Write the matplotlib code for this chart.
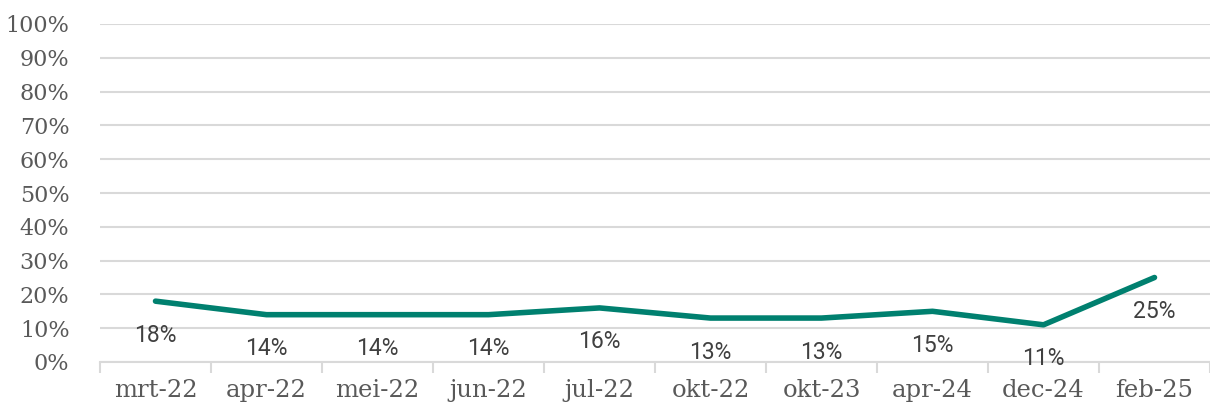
import matplotlib
matplotlib.use("Agg")
import matplotlib.pyplot as plt
from matplotlib.ticker import FixedLocator

categories = ["mrt-22", "apr-22", "mei-22", "jun-22", "jul-22",
              "okt-22", "okt-23", "apr-24", "dec-24", "feb-25"]
values = [0.18, 0.14, 0.14, 0.14, 0.16, 0.13, 0.13, 0.15, 0.11, 0.25]
y_ticks = [i / 10 for i in range(11)]
y_labels = [f"{i * 10}%" for i in range(11)]

W, H = 1210, 405
fig = plt.figure(figsize=(W / 100, H / 100), dpi=100)
ax = fig.add_axes([100 / W, 43 / H, 1110 / W, 338 / H])

x = list(range(len(categories)))
ax.plot(x, values, color="#00806F", linewidth=4, solid_capstyle="round",
        solid_joinstyle="round", zorder=3)

for xi, v in zip(x, values):
    ax.annotate(f"{round(v * 100)}%", (xi, v), xytext=(0, -34),
                textcoords="offset pixels", ha="center", va="center",
                fontsize=16.5, family="Roboto", color="#404040", zorder=4)

ax.set_xlim(-0.5, len(categories) - 0.5)
ax.set_ylim(0, 1)
ax.set_yticks(y_ticks)
ax.set_yticklabels(y_labels, family="DejaVu Serif", fontsize=16, color="#595959")
ax.set_xticks(x)
ax.set_xticklabels(categories, family="DejaVu Serif", fontsize=17.5, color="#595959")
ax.xaxis.set_minor_locator(FixedLocator([i - 0.5 for i in range(len(categories) + 1)]))
ax.tick_params(axis="x", which="major", length=0, pad=12)
ax.tick_params(axis="x", which="minor", length=8, color="#D9D9D9", width=1.5)
ax.tick_params(axis="y", length=0, pad=22)

ax.grid(axis="y", color="#D9D9D9", linewidth=1.5, zorder=0)
ax.set_axisbelow(True)
for s in ["top", "right", "left"]:
    ax.spines[s].set_visible(False)
ax.spines["bottom"].set_color("#D9D9D9")
ax.spines["bottom"].set_linewidth(1.5)

fig.savefig("out.png", dpi=100)
